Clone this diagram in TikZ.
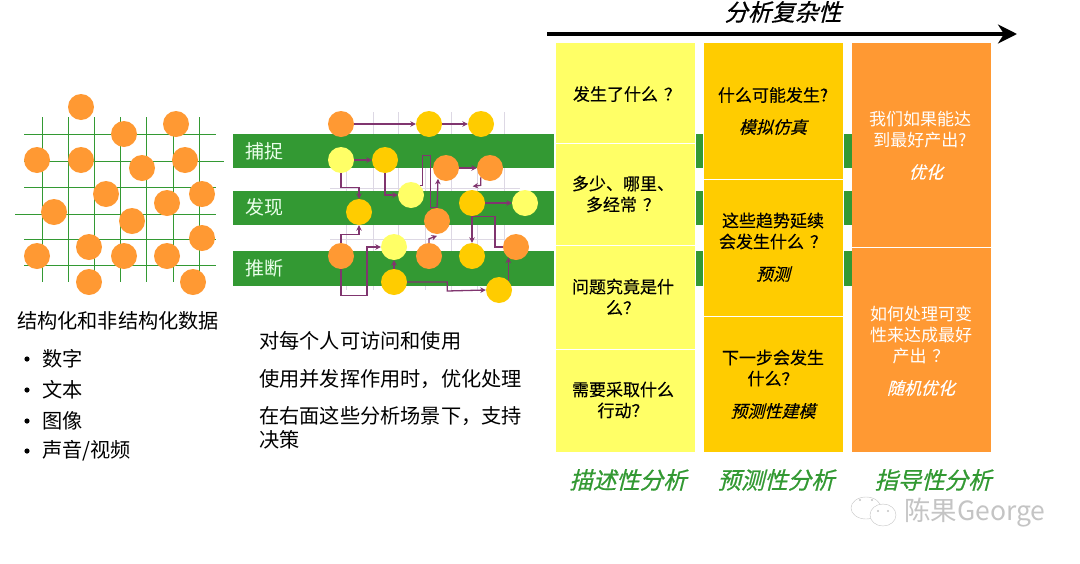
\documentclass[tikz,border=0pt]{standalone}
\usepackage{fontspec}
\setmainfont{Noto Sans CJK SC}
\newfontfamily\slantfont{Noto Sans CJK SC}[FakeSlant=.25,FakeBold=.3]
\newfontfamily\headfont{Noto Sans CJK SC}[FakeSlant=.25,FakeBold=.7]
\newfontfamily\medfont{Noto Sans CJK SC}[FakeBold=.3]
\newcommand\qmark{\hspace{6pt}？}
\usetikzlibrary{arrows.meta,calc}
\definecolor{dotorange}{HTML}{FF9933}
\definecolor{dotgold}{HTML}{FFCC00}
\definecolor{dotyellow}{HTML}{FFFF66}
\definecolor{bargreen}{HTML}{339933}
\definecolor{linkpurple}{HTML}{80356F}
\definecolor{gridpale}{HTML}{DDD8E4}
\definecolor{markgrey}{HTML}{C4C4C4}
\tikzset{>=Stealth,
dot/.style={circle,inner sep=0pt,minimum size=26pt,fill=#1},
link/.style={linkpurple,line width=1.3pt,-{Stealth[length=5.5pt,width=5.5pt]}},
plainlink/.style={linkpurple,line width=1.3pt},
gridline/.style={bargreen,line width=1pt},
bartext/.style={text=white!92!green,font=\fontsize{19}{22}\selectfont},
bodytext/.style={anchor=west,inner sep=0pt,font=\fontsize{20.2}{24}\selectfont},
celltext/.style={align=center,inner sep=0pt,font=\fontsize{17}{21}\selectfont\medfont},
whitetext/.style={align=center,inner sep=0pt,text=white,font=\fontsize{17}{21}\selectfont},
cellslant/.style={inner sep=0pt,font=\fontsize{17}{21}\selectfont\slantfont},
headtext/.style={inner sep=0pt,font=\fontsize{23.4}{26}\selectfont\headfont}}
\begin{document}
\begin{tikzpicture}[x=1pt,y=-1pt]
\useasboundingbox (0,0) rectangle (1080,563);
\foreach \x in {42,68,94,120,146,173,199}{\draw[gridline] (\x,117)--(\x,282);}
\foreach \y/\a/\b in {134/24/216,161/24/224,187/24/216,214/15/216,239/24/216,265/24/216}{\draw[gridline] (\a,\y)--(\b,\y);}
\foreach \i/\x/\y in {1/81/107,2/124/134,3/176/124,4/37/160,5/81/160,6/142/168,7/185/160,8/106/194,9/202/194,10/167/203,11/54/212,12/132/221,13/202/238,14/89/247,15/37/256,16/124/256,17/167/256,18/89/282,19/193/282}{\node[dot=dotorange] (data\i) at (\x,\y){};}
\foreach \x in {346,373,398,425,451,477,504}{\draw[gridpale] (\x,112)--(\x,290);}
\foreach \y in {188,239}{\draw[gridpale] (330,\y)--(520,\y);}
\foreach \y/\h in {134/34,191/34,251/35}{\fill[bargreen] (233,\y) rectangle (554,\y+\h);\fill[bargreen] (696,\y) rectangle (703,\y+\h);\fill[bargreen] (844,\y) rectangle (852,\y+\h);}
\node[bartext] (capture) at (264,151){捕捉};
\node[bartext] (discover) at (264,207){发现};
\node[bartext] (infer) at (264,268){推断};
\node[dot=dotorange] (a1) at (341,124){};
\node[dot=dotgold] (a2) at (429,124){};
\node[dot=dotgold] (a3) at (481,124){};
\node[dot=dotyellow] (b1) at (341,160){};
\node[dot=dotgold] (b2) at (385,160){};
\node[dot=dotorange] (b3) at (446,168){};
\node[dot=dotorange] (b4) at (490,168){};
\node[dot=dotyellow] (c1) at (411,195){};
\node[dot=dotgold] (c2) at (472,203){};
\node[dot=dotyellow] (c3) at (525,203){};
\node[dot=dotgold] (c4) at (359,212){};
\node[dot=dotorange] (c5) at (437,221){};
\node[dot=dotyellow] (d1) at (394,247){};
\node[dot=dotorange] (d2) at (341,256){};
\node[dot=dotorange] (d3) at (429,256){};
\node[dot=dotgold] (d4) at (472,256){};
\node[dot=dotorange] (d5) at (516,247){};
\node[dot=dotgold] (e1) at (394,282){};
\node[dot=dotgold] (e2) at (499,290){};
\draw[link] (a1)--(a2);
\draw[link] (a2)--(a3);
\draw[link] (b1)--(b2);
\draw[link] (b1.south)--++(0,14)-|(c4.north);
\draw[link] (b2.south)|-(c1.west);
\draw[plainlink] (c1.north east)--++(2,0)--++(0,-30)--++(8,0)|-(c5.north);
\draw[link] (c5.north)--++(1,-29);
\draw[link] (b3)--(b4);
\draw[link] (b4.south west)--++(0,8)--++(-8,1);
\draw[link] (c2)--(c3);
\draw[link] (c2)--(d4);
\draw[plainlink] (c2.south)--++(23,0)|-(d5.west);
\draw[link] (d2.north)--++(0,-8)-|(c4.south);
\draw[link] (d2.south)--++(0,26)--++(26,0)|-(d1.west);
\draw[link] (e1)--(d1);
\draw[link] (e1.east)--++(40,0)--++(0,9)--(e2.west);
\draw[link] (e2.north east)--++(0,-23);
\draw[link] (d3.north)--++(0,-4)--++(8,-3);
\node[bodytext] (sourcehead) at (17,321){结构化和非结构化数据};
\foreach \n/\y/\t in {num/359/数字,txt/390/文本,img/421/图像,av/451/{声音/视频}}{\fill (27,\y) circle (2.6pt);\node[bodytext] (\n) at (42,\y){\t};}
\node[bodytext] (usea) at (259,341){对每个人可访问和使用};
\node[bodytext] (useb) at (259,379){使用并发挥作用时，优化处理};
\node[bodytext] (usec) at (259,416){在右面这些分析场景下，支持};
\node[bodytext] (used) at (259,440){决策};
\draw[black,line width=3.5pt,-{Stealth[length=19pt,width=19pt,inset=6pt]}] (547,34)--(1017,34);
\node[headtext,text=black] (axis) at (783,12){分析复杂性};
\fill[dotyellow] (556,43) rectangle (695,452);
\fill[dotgold] (704,43) rectangle (843,452);
\fill[dotorange] (852,43) rectangle (991,452);
\foreach \y in {143,245,349}{\draw[white,line width=.8pt] (556,\y)--(695,\y);}
\foreach \y in {179,316}{\draw[white,line width=.8pt] (704,\y)--(843,\y);}
\draw[white,line width=.8pt] (852,247)--(991,247);
\node[celltext] (qa) at (627,94){发生了什么\qmark};
\node[celltext] (qb) at (623,194){多少、哪里、\\多经常\qmark};
\node[celltext] (qc) at (623,297){问题究竟是什\\么？};
\node[celltext] (qd) at (623,400){需要采取什么\\行动？};
\node[celltext] (pa) at (773,95){什么可能发生?};
\node[cellslant] (pas) at (773,127){模拟仿真};
\node[celltext] (pb) at (773,231){这些趋势延续\\会发生什么\qmark};
\node[cellslant] (pbs) at (773,274){预测};
\node[celltext] (pc) at (773,368){下一步会发生\\什么？};
\node[cellslant] (pcs) at (773,411){预测性建模};
\node[whitetext] (ra) at (920,130){我们如果能达\\到最好产出?};
\node[cellslant,text=white] (ras) at (926,172){优化};
\node[whitetext] (rb) at (921,335){如何处理可变\\性来达成最好\\产出\qmark};
\node[cellslant,text=white] (rbs) at (921,388){随机优化};
\node[headtext,text=bargreen] (desc) at (628,480){描述性分析};
\node[headtext,text=bargreen] (pred) at (776,480){预测性分析};
\node[headtext,text=bargreen] (pres) at (933,480){指导性分析};
\draw[markgrey,fill=white] (866,508) ellipse (15pt and 11pt);
\draw[markgrey,fill=white] (883,515) ellipse (13pt and 11pt);
\foreach \x/\y in {860/500,872/500,878/511,888/511}{\fill[markgrey] (\x,\y) circle (1.2pt);}
\node[inner sep=0pt,text=markgrey,font=\fontsize{26.5}{30}\selectfont] (mark) at (975,513){陈果George};
\end{tikzpicture}
\end{document}
